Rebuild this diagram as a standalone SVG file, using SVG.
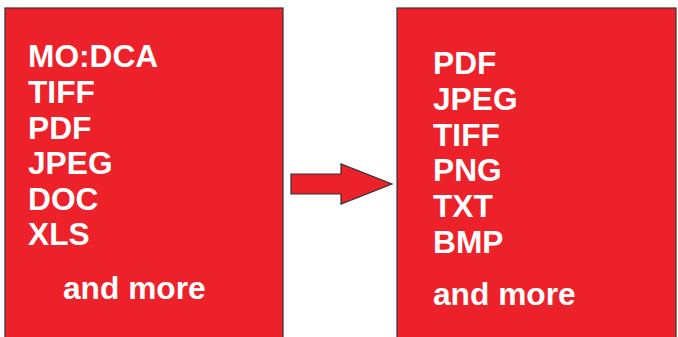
<svg xmlns="http://www.w3.org/2000/svg" width="678" height="337" viewBox="0 0 678 337">
<style>
.box{fill:#ED2129;stroke:#333;stroke-width:1.2}
.t{font-family:"Liberation Sans",Arial,sans-serif;font-weight:bold;font-size:31.7px;fill:#fff}
</style>
<rect width="678" height="337" fill="#fff"/>
<g id="source">
<rect class="box" x="5" y="8" width="278" height="340"/>
<text class="t" x="28" y="67">MO:DCA</text>
<text class="t" x="28" y="103">TIFF</text>
<text class="t" x="28" y="139">PDF</text>
<text class="t" x="28" y="174">JPEG</text>
<text class="t" x="28" y="210">DOC</text>
<text class="t" x="28" y="245">XLS</text>
<text class="t" x="63" y="299">and more</text>
</g>
<g id="target">
<rect class="box" x="397" y="8" width="279" height="340"/>
<text class="t" x="433" y="74">PDF</text>
<text class="t" x="433" y="110">JPEG</text>
<text class="t" x="433" y="146">TIFF</text>
<text class="t" x="433" y="181">PNG</text>
<text class="t" x="433" y="217">TXT</text>
<text class="t" x="433" y="253">BMP</text>
<text class="t" x="433" y="305">and more</text>
</g>
<g id="connectors">
<polygon class="box" points="291,174 341,174 341,164 392,184 341,204 341,194 291,194"/>
</g>
</svg>
